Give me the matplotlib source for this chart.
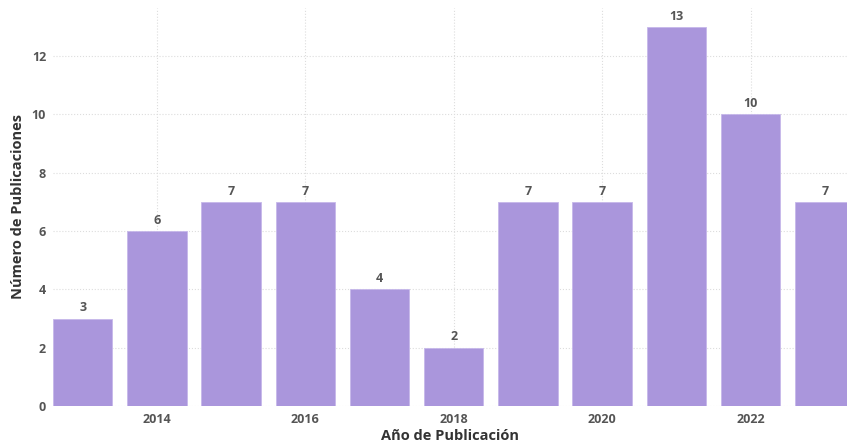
import matplotlib

matplotlib.use("Agg")

import matplotlib.pyplot as plt

years = [2013, 2014, 2015, 2016, 2017, 2018, 2019, 2020, 2021, 2022, 2023]
counts = [3, 6, 7, 7, 4, 2, 7, 7, 13, 10, 7]
x_ticks = [2014, 2016, 2018, 2020, 2022]
y_ticks = [0, 2, 4, 6, 8, 10, 12]

plt.rcParams["font.family"] = ["Open Sans", "DejaVu Sans"]

fig = plt.figure(figsize=(8.47, 4.44), dpi=100)
ax = fig.add_axes([0.0626, 0.0856, 0.9374, 0.8964])

bars = ax.bar(years, counts, width=0.8, color="#aa96dc", edgecolor="#c6b8ea",
              linewidth=0.6, zorder=2)
for rect, val in zip(bars, counts):
    ax.text(rect.get_x() + rect.get_width() / 2, val + 0.15, str(val),
            ha="center", va="bottom", fontsize=9, fontweight="bold", color="#555555")

ax.set_xlim(2012.6, 2023.3)
ax.set_ylim(0, 13.65)
ax.set_xticks(x_ticks)
ax.set_yticks(y_ticks)
ax.tick_params(length=0, labelsize=9, labelcolor="#555555", pad=5)
for lbl in ax.get_xticklabels() + ax.get_yticklabels():
    lbl.set_fontweight("bold")

ax.grid(True, linestyle=":", color="#dddddd", linewidth=0.8, zorder=0)
ax.set_axisbelow(True)
for spine in ax.spines.values():
    spine.set_visible(False)

ax.set_xlabel("Año de Publicación", fontsize=10.5, fontweight="bold", color="#333333", labelpad=2)
ax.set_ylabel("Número de Publicaciones", fontsize=10.5, fontweight="bold", color="#333333", labelpad=5)

fig.savefig("out.png", dpi=100)
